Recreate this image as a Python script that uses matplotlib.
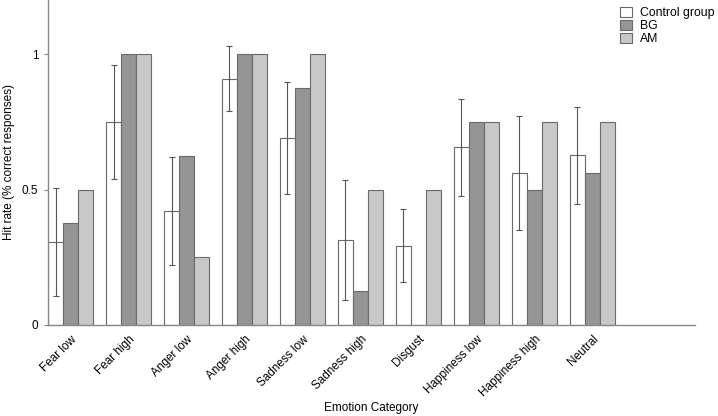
import matplotlib.pyplot as plt
import numpy as np

plt.rcParams['font.family'] = ['Liberation Sans', 'DejaVu Sans']

categories = ['Fear low', 'Fear high', 'Anger low', 'Anger high', 'Sadness low',
              'Sadness high', 'Disgust', 'Happiness low', 'Happiness high', 'Neutral']
control = [0.306, 0.75, 0.42, 0.909, 0.69, 0.315, 0.293, 0.656, 0.56, 0.626]
control_err = [0.20, 0.21, 0.20, 0.12, 0.207, 0.222, 0.135, 0.18, 0.21, 0.178]
bg = [0.375, 1.0, 0.625, 1.0, 0.875, 0.125, 0.0, 0.75, 0.5, 0.5625]
am = [0.5, 1.0, 0.25, 1.0, 1.0, 0.5, 0.5, 0.75, 0.75, 0.75]

x = np.arange(len(categories))
w = 0.26
edge = '#6a6a6a'

fig = plt.figure(figsize=(7.18, 4.16), dpi=100)
ax = fig.add_axes([0.0669, 0.219, 0.901, 0.781])

ax.bar(x - w, control, w, color='white', edgecolor=edge, linewidth=0.8, label='Control group')
ax.bar(x, bg, w, color='#959595', edgecolor=edge, linewidth=0.8, label='BG')
ax.bar(x + w, am, w, color='#c8c8c8', edgecolor=edge, linewidth=0.8, label='AM')
ax.errorbar(x - w, control, yerr=control_err, fmt='none', ecolor='#555555',
            elinewidth=0.8, capsize=2, capthick=0.8)

ax.set_xlim(-1.5 * w, -1.5 * w + 11.16)
ax.set_ylim(0, 1.2)
ax.set_yticks([0, 0.5, 1])
ax.set_yticklabels(['0', '0.5', '1'])
ax.set_xticks(x)
ax.set_xticklabels(categories, rotation=45, ha='right', rotation_mode='anchor')
ax.tick_params(axis='x', length=0, pad=6, labelsize=8.5)
ax.tick_params(axis='y', length=3, color='#888888', labelsize=8.5, pad=4)
for s in ['top', 'right']:
    ax.spines[s].set_visible(False)
for s in ['left', 'bottom']:
    ax.spines[s].set_color('#888888')
    ax.spines[s].set_linewidth(1.0)

ax.set_xlabel('Emotion Category', fontsize=8.5, labelpad=2)
ax.set_ylabel('Hit rate (% correct responses)', fontsize=8.5, labelpad=5)

fig.legend(loc='upper right', bbox_to_anchor=(1.01, 1.01), frameon=False, fontsize=8.8,
           handlelength=1.0, handleheight=0.9, handletextpad=0.6, labelspacing=0.05)

fig.savefig('out.png', dpi=100)
